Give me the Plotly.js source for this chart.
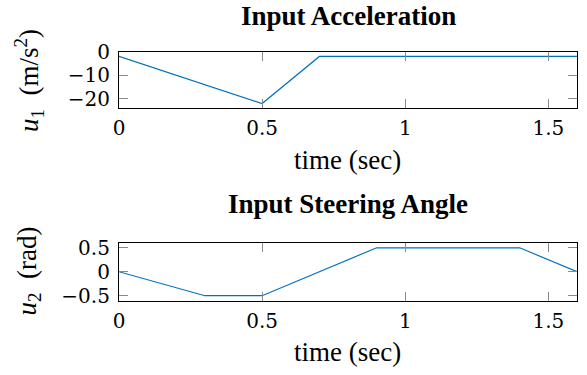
<!DOCTYPE html>
<html>
<head>
<meta charset="utf-8">
<script src="https://cdn.plot.ly/plotly-3.0.1.min.js"></script>
<style>html,body{margin:0;padding:0;background:#fff;}#chart{width:587px;height:375px;}</style>
</head>
<body>
<div id="chart"></div>
<script>
// Data
const timeAccel = [0, 0.5, 0.7, 1.6];
const accelValues = [-2, -22, -2, -2];
const timeSteer = [0, 0.3, 0.5, 0.9, 1.4, 1.6];
const steerValues = [0, -0.5, -0.5, 0.5, 0.5, 0];
const xTicks = [0, 0.5, 1, 1.5];
const xTickText = ['0', '0.5', '1', '1.5'];
const accelTicks = [0, -10, -20];
const accelTickText = ['0', '\u221210', '\u221220'];
const steerTicks = [0.5, 0, -0.5];
const steerTickText = ['0.5', '0', '\u22120.5'];

const W = 587, H = 375;
const px = v => v / W;
const py = v => 1 - v / H;

const lineColor = '#0072BD';
const SERIF = 'Liberation Serif';
const TICKFAM = 'DejaVu Serif';
const labelFont = {family: SERIF, size: 27, color: '#000'};
const titleFont = {family: SERIF, size: 27, color: '#000', weight: 'bold'};

function xAxis(anchor) {
  return {
    domain: [px(119), px(577)], range: [0, 1.6], anchor: anchor,
    tickmode: 'array', tickvals: xTicks, ticktext: xTickText,
    ticks: 'inside', ticklen: 9, tickwidth: 1.2, tickcolor: '#8a8a8a',
    showline: true, linecolor: '#000', linewidth: 1.1, mirror: 'allticks',
    showgrid: false, zeroline: false, tickfont: {family: TICKFAM, size: 20, color: '#000'},
    ticklabelstandoff: 2
  };
}
function yAxis(anchor, dom, rng, tv, tt) {
  return {
    domain: dom, range: rng, anchor: anchor,
    tickmode: 'array', tickvals: tv, ticktext: tt,
    ticks: 'inside', ticklen: 9, tickwidth: 1.2, tickcolor: '#8a8a8a',
    showline: true, linecolor: '#000', linewidth: 1.1, mirror: 'allticks',
    showgrid: false, zeroline: false, tickfont: {family: TICKFAM, size: 20, color: '#000'},
    ticklabelstandoff: 4
  };
}

const data = [
  {x: timeAccel, y: accelValues, xaxis: 'x', yaxis: 'y', mode: 'lines',
   line: {color: lineColor, width: 1.2}, hoverinfo: 'skip'},
  {x: timeSteer, y: steerValues, xaxis: 'x2', yaxis: 'y2', mode: 'lines',
   line: {color: lineColor, width: 1.2}, hoverinfo: 'skip'}
];

const layout = {
  width: W, height: H, margin: {l: 0, r: 0, t: 0, b: 0},
  font: {family: SERIF, size: 24, color: '#000'},
  paper_bgcolor: '#fff', plot_bgcolor: '#fff', showlegend: false,
  xaxis: xAxis('y'),
  yaxis: yAxis('x', [py(108.3), py(51.7)], [-24, 0], accelTicks, accelTickText),
  xaxis2: xAxis('y2'),
  yaxis2: yAxis('x2', [py(300.5), py(243)], [-0.6, 0.6], steerTicks, steerTickText),
  annotations: [
    {text: 'Input Acceleration', x: px(348), y: 1, xref: 'paper', yref: 'paper',
     xanchor: 'center', yanchor: 'top', borderpad: 0, showarrow: false, font: titleFont},
    {text: 'Input Steering Angle', x: px(348), y: py(204), xref: 'paper', yref: 'paper',
     xanchor: 'center', yanchor: 'middle', showarrow: false, font: titleFont},
    {text: 'time (sec)', x: px(347), y: py(160), xref: 'paper', yref: 'paper',
     xanchor: 'center', yanchor: 'middle', showarrow: false, font: labelFont},
    {text: 'time (sec)', x: px(347), y: py(352), xref: 'paper', yref: 'paper',
     xanchor: 'center', yanchor: 'middle', showarrow: false, font: labelFont},
    {text: '<i>u</i><sub>1</sub>  (m/s<sup>2</sup>)', x: px(29), y: py(80), xref: 'paper', yref: 'paper',
     xanchor: 'center', yanchor: 'middle', textangle: -90, showarrow: false, font: labelFont},
    {text: '<i>u</i><sub>2</sub>  (rad)', x: px(28), y: py(271.5), xref: 'paper', yref: 'paper',
     xanchor: 'center', yanchor: 'middle', textangle: -90, showarrow: false, font: labelFont}
  ]
};

Plotly.newPlot('chart', data, layout, {displayModeBar: false, staticPlot: true});
</script>
</body>
</html>
